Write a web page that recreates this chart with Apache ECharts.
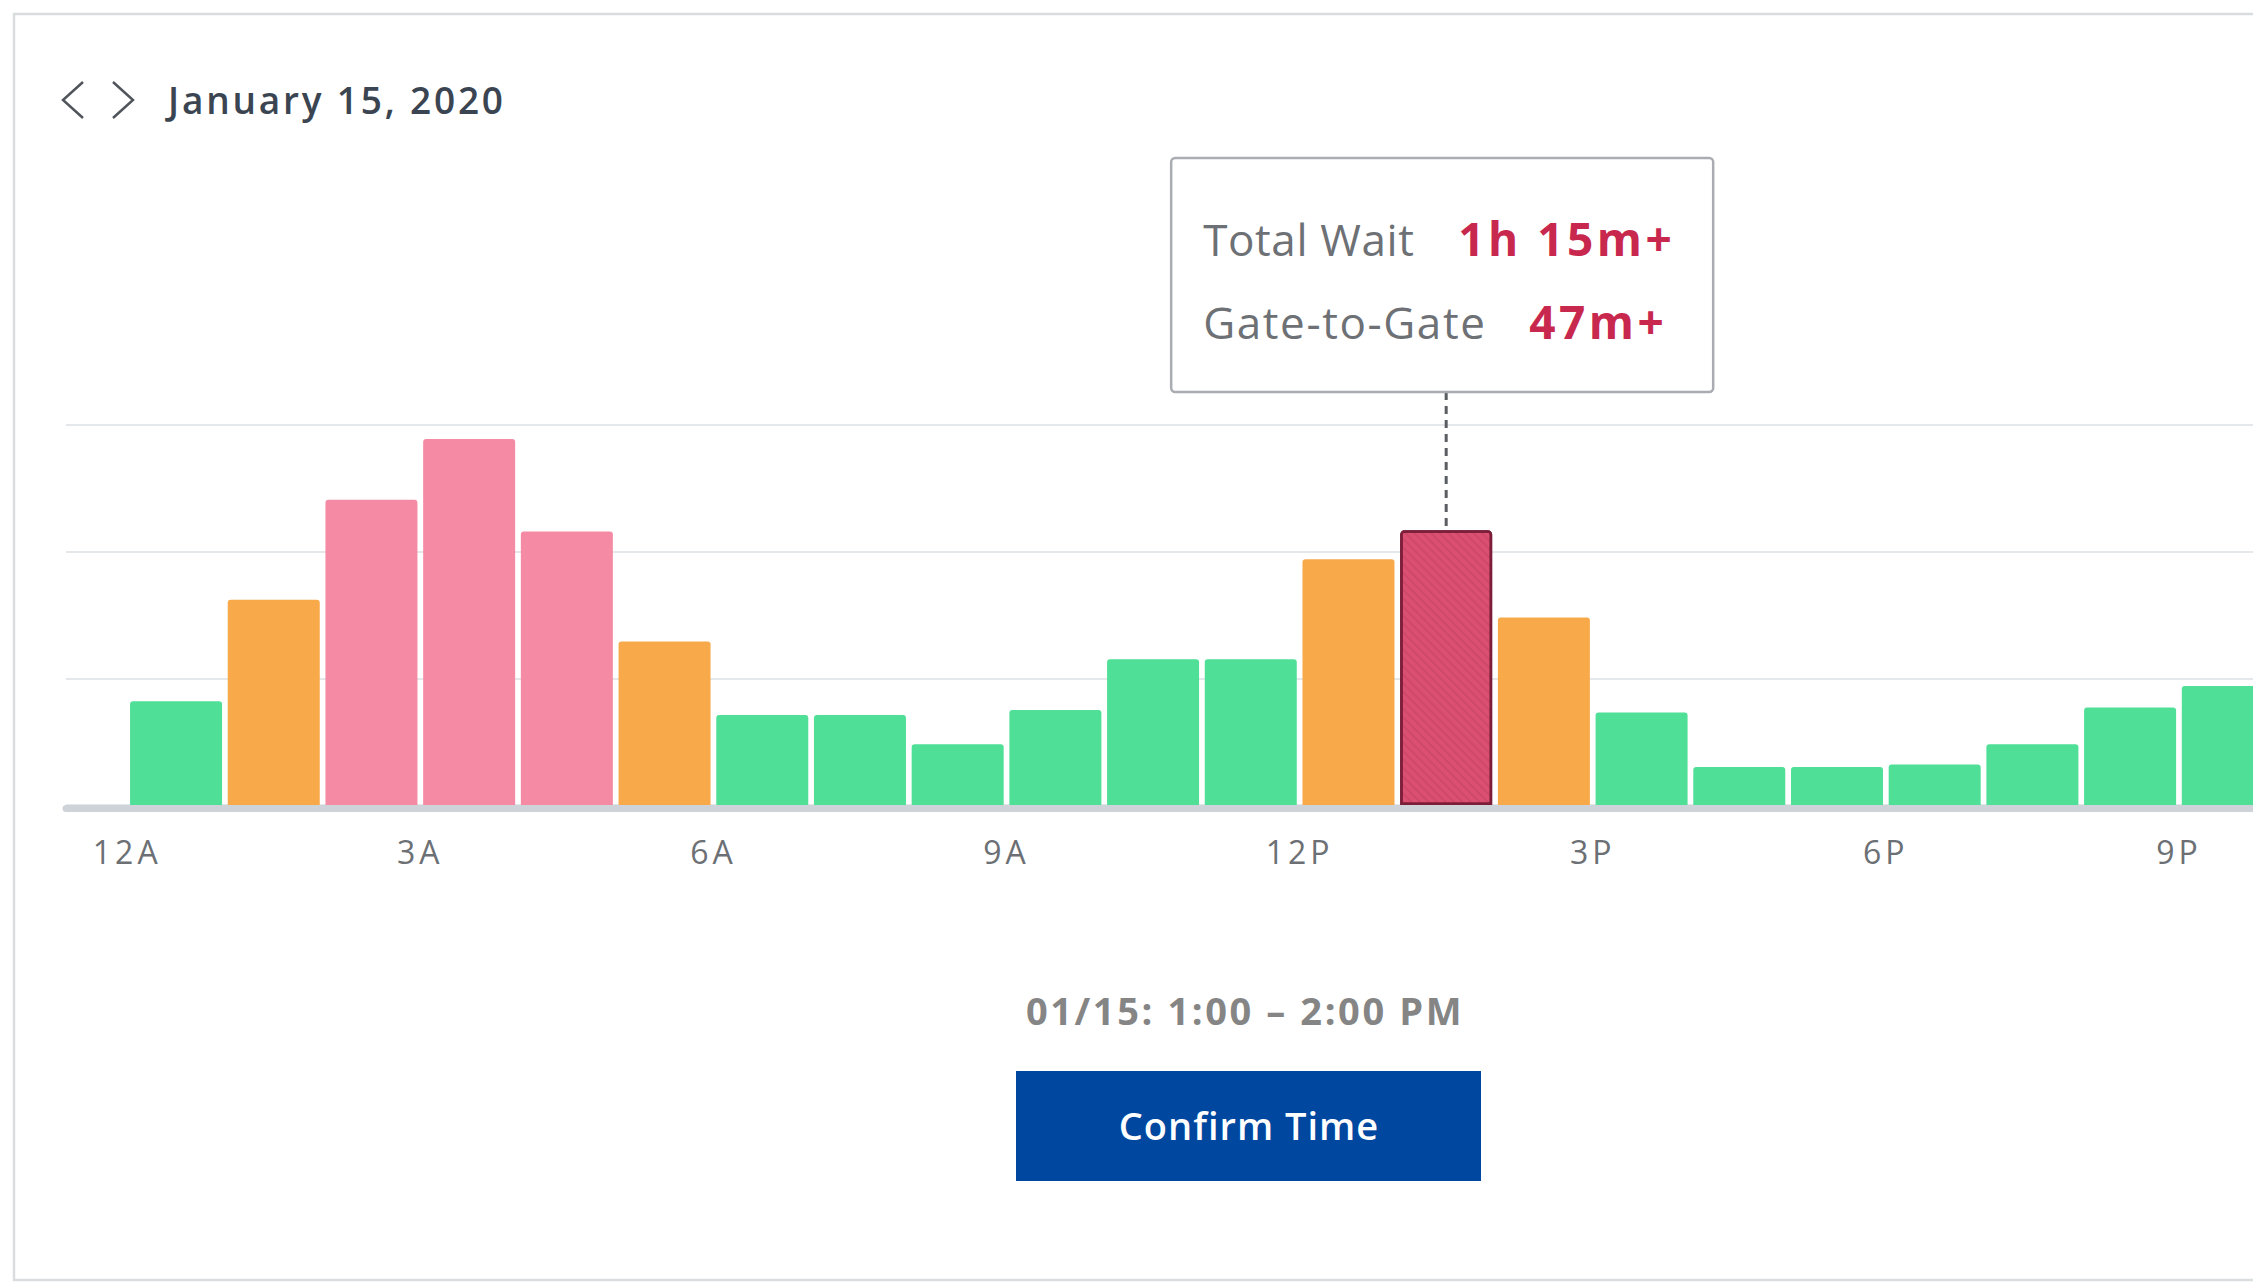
<!DOCTYPE html>
<html>
<head>
<meta charset="utf-8">
<script src="https://cdn.jsdelivr.net/npm/echarts@6/dist/echarts.min.js"></script>
<style>
html,body{margin:0;padding:0;background:#ffffff;overflow:hidden}
#c{width:2253px;height:1283px}
</style>
</head>
<body>
<div id="c"></div>
<script>
// ---- data ----
const hourLabels = ['12A','1A','2A','3A','4A','5A','6A','7A','8A','9A','10A','11A',
                    '12P','1P','2P','3P','4P','5P','6P','7P','8P','9P'];
const waitLevels = [0.82,1.62,2.41,2.89,2.16,1.29,0.71,0.71,0.48,0.75,1.15,1.15,
                    1.94,2.17,1.48,0.73,0.30,0.30,0.32,0.48,0.77,0.94];
const tickHours  = [0,3,6,9,12,15,18,21];
const tickLabels = ['12A','3A','6A','9A','12P','3P','6P','9P'];
const selectedIndex = 13;
const dateTitle = 'January 15, 2020';
const tipLabels = ['Total Wait','Gate-to-Gate'];
const tipValues = ['1h 15m+','47m+'];
const rangeText = '01/15: 1:00 – 2:00 PM';
const buttonText = 'Confirm Time';

// ---- style ----
const FONT = '"Open Sans", "Noto Sans", sans-serif';
const GREEN = '#50df97', ORANGE = '#f8a94a', PINK = '#f58aa4';
const SEL = '#db4f72', SEL_BORDER = '#7c1e39';
function levelColor(v){ return v >= 2.1 ? PINK : (v >= 1.25 ? ORANGE : GREEN); }

const chart = echarts.init(document.getElementById('c'), null, {renderer:'svg'});

const barData = waitLevels.map((v, i) => {
  const item = { value: [i + 0.5, v], name: hourLabels[i],
    itemStyle: { color: levelColor(v), borderRadius: [3,3,0,0] } };
  if (i === selectedIndex) {
    item.itemStyle = {
      color: SEL, borderColor: SEL_BORDER, borderWidth: 2.5, borderRadius: [3,3,0,0],
      decal: { symbol: 'rect', symbolSize: 1, dashArrayX: [1, 0], dashArrayY: [2, 4],
               rotation: Math.PI / 4, color: 'rgba(120,25,50,0.12)' }
    };
  }
  return item;
});

chart.setOption({
  animation: false,
  backgroundColor: '#ffffff',
  grid: { left: 66, right: 0, top: 425, bottom: 478, containLabel: false, outerBoundsMode: 'none' },
  xAxis: {
    type: 'value', min: -0.6264, max: 21.758, offset: 3.5,
    axisLine: { show: true, onZero: false, lineStyle: { color: '#cdd3d9', width: 7 } },
    axisTick: { show: false },
    splitLine: { show: false },
    axisLabel: {
      customValues: tickHours,
      formatter: v => tickLabels[tickHours.indexOf(Math.round(v))] || '',
      margin: 27, fontSize: 32, color: '#6c7074', fontFamily: FONT
    }
  },
  yAxis: {
    type: 'value', min: 0, max: 3, interval: 1,
    axisLine: { show: false }, axisTick: { show: false }, axisLabel: { show: false },
    splitLine: { show: true, lineStyle: { color: '#e5e8eb', width: 2 } }
  },
  series: [{
    type: 'bar', barWidth: 92, data: barData, z: 3
  }]
});

// annotation anchored to the selected bar
const p = chart.convertToPixel({ seriesIndex: 0 }, [selectedIndex + 0.5, waitLevels[selectedIndex]]);
const bx = p[0], by = p[1];
const boxW = 542, boxTop = 158, boxH = 234;
const boxLeft = bx - boxW / 2 - 4;
const rowY = [239, 322];
const valueX = [287, 358];

const tipGraphics = [];
tipLabels.forEach((t, i) => {
  tipGraphics.push({ type: 'text', x: boxLeft + 32, y: rowY[i], z: 20,
    style: { text: t, fontSize: 44, fill: '#6d7074', fontFamily: FONT, verticalAlign: 'middle' } });
  tipGraphics.push({ type: 'text', x: boxLeft + valueX[i], y: rowY[i] - 1, z: 20,
    style: { text: tipValues[i], fontSize: 46, fontWeight: 'bold', fill: '#c8284e',
             fontFamily: FONT, verticalAlign: 'middle' } });
});

chart.setOption({
  graphic: [
    { type: 'rect', shape: { x: 14, y: 14, width: 2260, height: 1266 }, z: -10,
      style: { fill: '#ffffff', stroke: '#dadde0', lineWidth: 2.5 } },
    { type: 'polyline', shape: { points: [[83,82],[63,100],[83,118]] },
      style: { stroke: '#4f555b', lineWidth: 2.5, fill: null } },
    { type: 'polyline', shape: { points: [[113,82],[133,100],[113,118]] },
      style: { stroke: '#4f555b', lineWidth: 2.5, fill: null } },
    { type: 'text', x: 168, y: 99,
      style: { text: dateTitle, fontSize: 37, fontWeight: 600, fill: '#3b4552',
               fontFamily: FONT, verticalAlign: 'middle' } },
    { type: 'line', z: 15, shape: { x1: bx, y1: boxTop + boxH, x2: bx, y2: by - 3 },
      style: { stroke: '#5a5e63', lineWidth: 3, lineDash: [8, 6] } },
    { type: 'rect', z: 18, shape: { x: boxLeft, y: boxTop, width: boxW, height: boxH, r: 4 },
      style: { fill: '#ffffff', stroke: '#a9adb1', lineWidth: 2.5 } }
  ].concat(tipGraphics, [
    { type: 'text', x: 1245, y: 1010,
      style: { text: rangeText, fontSize: 38, fontWeight: 'bold', fill: '#858585',
               fontFamily: FONT, align: 'center', verticalAlign: 'middle' } },
    { type: 'rect', shape: { x: 1016, y: 1071, width: 465, height: 110 },
      style: { fill: '#0047a0' } },
    { type: 'text', x: 1249, y: 1125, z: 5,
      style: { text: buttonText, fontSize: 38, fontWeight: 600, fill: '#ffffff',
               fontFamily: FONT, align: 'center', verticalAlign: 'middle' } }
  ])
});

// tracking (letter-spacing) of the rendered SVG text, as in the reference typography
const tracking = {};
tracking[dateTitle] = 2.8;
tracking[rangeText] = 2.6;
tracking[buttonText] = 1;
tickLabels.forEach(t => tracking[t] = 4);
tracking[tipLabels[0]] = 0.6;
tracking[tipLabels[1]] = 1.6;
tipValues.forEach(t => tracking[t] = 3.5);
document.querySelectorAll('#c svg text').forEach(el => {
  const s = tracking[el.textContent];
  if (s) el.style.letterSpacing = s + 'px';
});
</script>
</body>
</html>
